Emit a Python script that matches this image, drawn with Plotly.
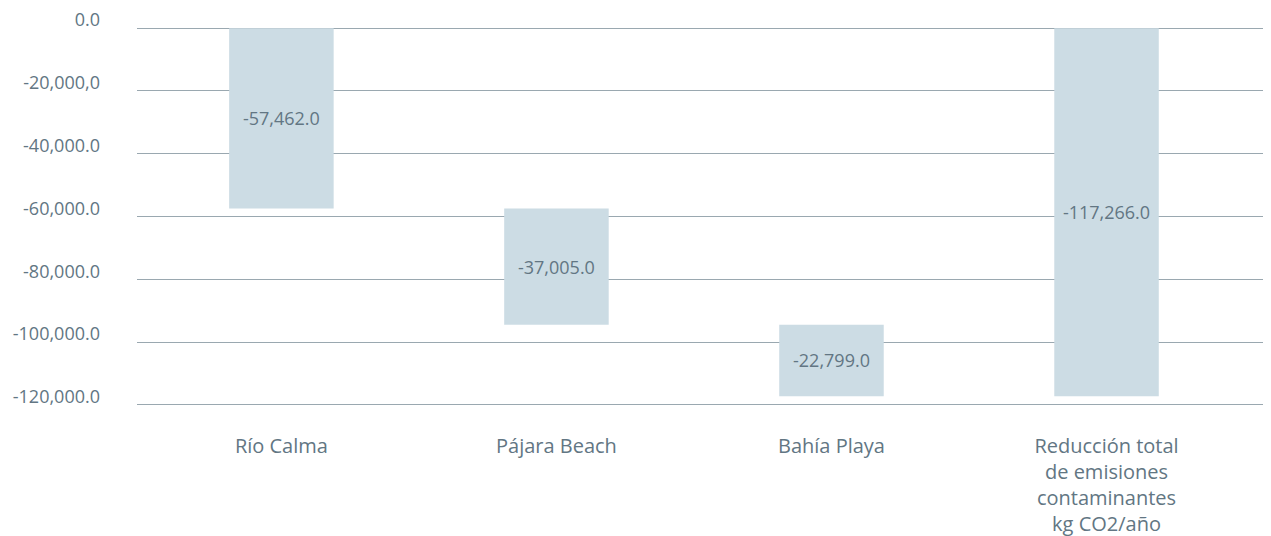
import plotly.graph_objects as go

# ── data ──────────────────────────────────────────────
categories = [
    "Río Calma",
    "Pájara Beach",
    "Bahía Playa",
    "Reducción total<br>de emisiones<br>contaminantes<br>kg CO2/año",
]
values = [-57462.0, -37005.0, -22799.0, -117266.0]
measures = ["relative", "relative", "relative", "total"]

tick_vals = [0, -20000, -40000, -60000, -80000, -100000, -120000]
tick_text = ["0.0", "-20,000,0", "-40,000.0", "-60,000.0",
             "-80,000.0", "-100,000.0", "-120,000.0"]

COLOURS = {
    "bar":  "#ccdce4",
    "text": "#627683",
    "grid": "#9aa8b0",
    "bg":   "#ffffff",
}
FONT = "Open Sans, sans-serif"

fig = go.Figure(go.Waterfall(
    x=categories,
    y=values,
    measure=measures,
    text=[f"{v:,.1f}" for v in values],
    textposition="inside",
    insidetextanchor="middle",
    textfont=dict(color=COLOURS["text"], size=18, family=FONT),
    decreasing=dict(marker=dict(color=COLOURS["bar"])),
    increasing=dict(marker=dict(color=COLOURS["bar"])),
    totals=dict(marker=dict(color=COLOURS["bar"])),
    connector=dict(visible=False),
    width=0.38,
    showlegend=False,
))

# page body has an 8px margin, so the figure is sized to end at the window edge
fig.update_layout(
    width=1263, height=528,
    paper_bgcolor=COLOURS["bg"], plot_bgcolor=COLOURS["bg"],
    font=dict(family=FONT, color=COLOURS["text"], size=18),
    margin=dict(l=129, r=0, t=17, b=128),
    xaxis=dict(
        range=[-0.525, 3.598],
        automargin=False,
        showgrid=False, zeroline=False, showline=False,
        tickfont=dict(size=20, color=COLOURS["text"]),
        ticklabelstandoff=24,
    ),
    yaxis=dict(
        range=[-121000, 1000],
        automargin=False,
        tickvals=tick_vals, ticktext=tick_text,
        showgrid=True, gridcolor=COLOURS["grid"], gridwidth=1,
        zeroline=True, zerolinecolor=COLOURS["grid"], zerolinewidth=1,
        showline=False,
        tickfont=dict(size=18, color=COLOURS["text"]),
        ticklabelstandoff=36,
        ticklabelshift=-8,
        ticklabeloverflow="allow",
    ),
)

fig.write_html("out.html")
